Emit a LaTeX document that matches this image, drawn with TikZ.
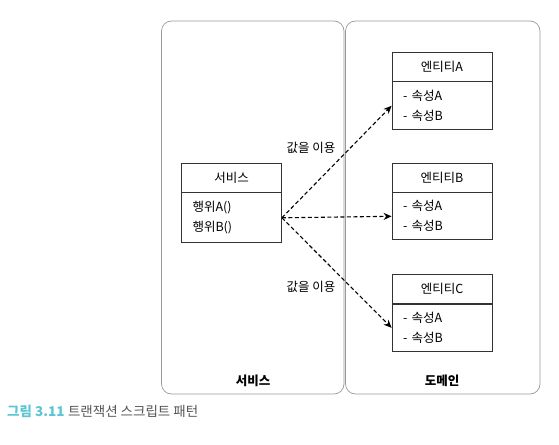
\documentclass[tikz,border=0pt]{standalone}
\usepackage{fontspec}
\setmainfont{Noto Sans CJK KR}
\usetikzlibrary{positioning,arrows.meta}
\definecolor{panegray}{HTML}{999999}
\definecolor{capcyan}{HTML}{5CC6D3}
\definecolor{capgray}{HTML}{555555}
\tikzset{
    pane/.style={draw=panegray, rounded corners=10pt, line width=0.7pt},
    classhead/.style={draw=black!80, line width=0.8pt, minimum width=100pt, minimum height=29pt, inner sep=0pt, font=\fontsize{12.5}{15}\selectfont},
    classbody/.style={draw=black!80, line width=0.8pt, minimum width=100pt, text width=78pt, align=left, inner sep=0pt, font=\fontsize{12.5}{20}\selectfont},
    uses/.style={dash pattern=on 4pt off 2.5pt, line width=1.1pt, -{Stealth[length=8pt,width=7pt]}},
}
\begin{document}
\begin{tikzpicture}[x=1pt, y=-1pt]
        \useasboundingbox (0,0) rectangle (559,444);
        % the two layers
        \draw[pane] (161.5,21) rectangle (344,394);
        \draw[pane] (345.5,21) rectangle (540,394);
        \node[font=\fontsize{12.5}{15}\selectfont\bfseries] (svclayer) at (253,381) {서비스};
        \node[font=\fontsize{12.5}{15}\selectfont\bfseries] (domlayer) at (442,381) {도메인};
        % service class
        \node[classhead] (svchead) at (231.5,177.5) {서비스};
        \node[classbody, minimum height=50pt, below=0pt of svchead] (svcbody) {행위A()\\행위B()};
        % entities
        \node[classhead] (enthead-a) at (442,66.5) {엔티티A};
        \node[classbody, minimum height=48pt, below=0pt of enthead-a] (entbody-a) {- 속성A\\- 속성B};
        \node[classhead] (enthead-b) at (442,177.5) {엔티티B};
        \node[classbody, minimum height=47pt, below=0pt of enthead-b] (entbody-b) {- 속성A\\- 속성B};
        \node[classhead] (enthead-c) at (442,289) {엔티티C};
        \node[classbody, minimum height=47pt, below=0pt of enthead-c] (entbody-c) {- 속성A\\- 속성B};
        % dependencies
        \draw[uses] (svcbody.east) -- (entbody-a.west);
        \draw[uses] (svcbody.east) -- (entbody-b.west);
        \draw[uses] (svcbody.east) -- (entbody-c.west);
        \node[font=\fontsize{12.5}{15}\selectfont] (uselabel-a) at (311,148) {값을 이용};
        \node[font=\fontsize{12.5}{15}\selectfont] (uselabel-c) at (311,287) {값을 이용};
        % caption
        \node[anchor=west, inner sep=0pt, font=\fontsize{13.5}{16}\selectfont] (caption) at (7,411)
            {{\bfseries\color{capcyan}그림 3.11}\hspace{3.5pt}{\color{capgray}트랜잭션 스크립트 패턴}};
\end{tikzpicture}
\end{document}
